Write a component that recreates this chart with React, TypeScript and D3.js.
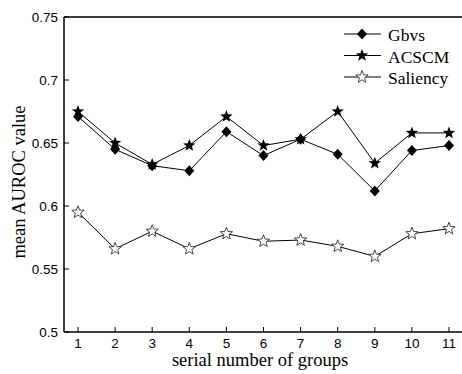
import * as d3 from "d3";

const groups = [1, 2, 3, 4, 5, 6, 7, 8, 9, 10, 11];
const gbvs = [0.671, 0.645, 0.632, 0.628, 0.659, 0.64, 0.653, 0.641, 0.612, 0.644, 0.648];
const acscm = [0.675, 0.65, 0.633, 0.648, 0.671, 0.648, 0.653, 0.675, 0.634, 0.658, 0.658];
const saliency = [0.595, 0.566, 0.58, 0.566, 0.578, 0.572, 0.573, 0.568, 0.56, 0.578, 0.582];
const yTicks = [0.5, 0.55, 0.6, 0.65, 0.7, 0.75];

const WIDTH = 462;
const HEIGHT = 374;
const MARGIN = { top: 17, right: 0, bottom: 42, left: 64 };

const starPath = (r: number) => {
  const pts: string[] = [];
  for (let i = 0; i < 10; i++) {
    const rad = i % 2 === 0 ? r : r * 0.42;
    const a = (Math.PI / 5) * i - Math.PI / 2;
    pts.push(`${(rad * Math.cos(a)).toFixed(2)},${(rad * Math.sin(a)).toFixed(2)}`);
  }
  return "M" + pts.join("L") + "Z";
};

const Marker = ({ kind, x, y }: { kind: string; x: number; y: number }) => {
  if (kind === "diamond") {
    return <path d="M0,-5.5L5,0L0,5.5L-5,0Z" transform={`translate(${x},${y})`} fill="#000" />;
  }
  if (kind === "star") {
    return <path d={starPath(6.5)} transform={`translate(${x},${y})`} fill="#000" />;
  }
  return (
    <path
      d={starPath(6.5)}
      transform={`translate(${x},${y})`}
      fill="#fff"
      stroke="#333"
      strokeWidth={0.9}
    />
  );
};

const series = [
  { name: "Gbvs", values: gbvs, kind: "diamond" },
  { name: "ACSCM", values: acscm, kind: "star" },
  { name: "Saliency", values: saliency, kind: "open" },
];

export default function App() {
  const boundsWidth = WIDTH - MARGIN.left - MARGIN.right;
  const boundsHeight = HEIGHT - MARGIN.top - MARGIN.bottom;

  const xScale = d3.scaleLinear().domain([1, 11]).range([14, 385]);
  const yScale = d3.scaleLinear().domain([0.5, 0.75]).range([boundsHeight, 0]);

  const line = d3
    .line<number>()
    .x((_, i) => xScale(groups[i]))
    .y((d) => yScale(d));

  return (
    <svg
      width={WIDTH}
      height={HEIGHT}
      style={{ position: "absolute", left: 0, top: 0, background: "#fff" }}
    >
      <g transform={`translate(${MARGIN.left},${MARGIN.top})`}>
        {/* frame */}
        <line x1={0} x2={boundsWidth} y1={0} y2={0} stroke="#000" strokeWidth={1.5} />
        <line x1={0} x2={0} y1={0} y2={boundsHeight} stroke="#000" strokeWidth={1.5} />
        <line x1={0} x2={boundsWidth} y1={boundsHeight} y2={boundsHeight} stroke="#000" strokeWidth={1.5} />

        {yTicks.map((t) => (
          <g key={t}>
            <line x1={0} x2={5} y1={yScale(t)} y2={yScale(t)} stroke="#000" />
            <text
              x={-6}
              y={yScale(t)}
              textAnchor="end"
              dominantBaseline="central"
              fontFamily="Liberation Sans, Arial, sans-serif"
              fontSize={13.5}
            >
              {String(t)}
            </text>
          </g>
        ))}

        {groups.map((g) => (
          <g key={g}>
            <line x1={xScale(g)} x2={xScale(g)} y1={boundsHeight} y2={boundsHeight - 5} stroke="#000" />
            <text
              x={xScale(g)}
              y={boundsHeight + 16}
              textAnchor="middle"
              fontFamily="Liberation Sans, Arial, sans-serif"
              fontSize={13.5}
            >
              {g}
            </text>
          </g>
        ))}

        {series.map((s) => (
          <g key={s.name}>
            <path d={line(s.values) || ""} fill="none" stroke="#000" strokeWidth={1} />
            {s.values.map((v, i) => (
              <Marker key={i} kind={s.kind} x={xScale(groups[i])} y={yScale(v)} />
            ))}
          </g>
        ))}

        {/* legend */}
        {series.map((s, i) => (
          <g key={s.name} transform={`translate(280,${17 + i * 21.5})`}>
            <line x1={0} x2={37} y1={0} y2={0} stroke="#000" />
            <Marker kind={s.kind} x={18} y={0} />
            <text
              x={44}
              y={1}
              dominantBaseline="central"
              fontFamily="Liberation Serif, Times New Roman, serif"
              fontSize={17.5}
            >
              {s.name}
            </text>
          </g>
        ))}
      </g>

      <text
        x={260}
        y={366}
        textAnchor="middle"
        fontFamily="Liberation Serif, Times New Roman, serif"
        fontSize={18.5}
      >
        serial number of groups
      </text>
      <text
        transform={`translate(25,182) rotate(-90)`}
        textAnchor="middle"
        fontFamily="Liberation Serif, Times New Roman, serif"
        fontSize={18.5}
      >
        mean AUROC value
      </text>
    </svg>
  );
}
